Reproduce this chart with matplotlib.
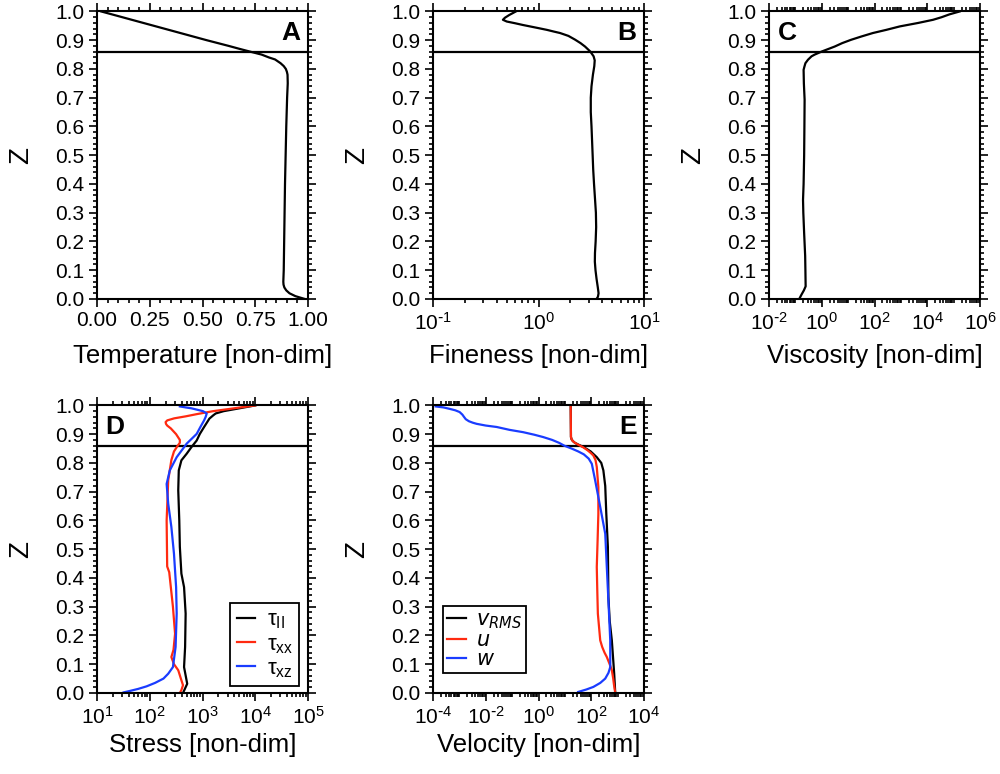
import numpy as np
import matplotlib
matplotlib.use("Agg")
import matplotlib.pyplot as plt
from matplotlib.ticker import (MultipleLocator, FixedLocator, LogLocator, FuncFormatter,
                               NullFormatter, FormatStrFormatter)

plt.rcParams['font.family'] = ['Liberation Sans', 'DejaVu Sans']
plt.rcParams['mathtext.default'] = 'regular'
plt.rcParams['axes.unicode_minus'] = False

# ---- Horizontally averaged profiles (z is non-dimensional height) ----
z_temp = [1.00, 0.98, 0.95, 0.92, 0.90, 0.88, 0.87, 0.86, 0.85, 0.84, 0.833, 0.82,
          0.81, 0.80, 0.79, 0.78, 0.75, 0.70, 0.60, 0.50, 0.40, 0.30, 0.20, 0.10,
          0.06, 0.05, 0.04, 0.03, 0.02, 0.01, 0.00]
temperature = [0.02, 0.12, 0.27, 0.42, 0.52, 0.625, 0.675, 0.727, 0.78, 0.815, 0.844, 0.87,
               0.885, 0.895, 0.90, 0.903, 0.904, 0.901, 0.897, 0.894, 0.891, 0.889, 0.887, 0.885,
               0.883, 0.884, 0.888, 0.897, 0.912, 0.94, 0.985]

z_fine = [1.000, 0.988, 0.978, 0.971, 0.965, 0.959, 0.953, 0.948, 0.942, 0.936, 0.930,
          0.925, 0.915, 0.902, 0.890, 0.878, 0.861, 0.844, 0.830, 0.810, 0.780, 0.740,
          0.700, 0.650, 0.600, 0.550, 0.500, 0.450, 0.400, 0.350, 0.300, 0.250, 0.200,
          0.160, 0.130, 0.100, 0.070, 0.040, 0.020, 0.008, 0.000]
fineness = [0.61, 0.53, 0.48, 0.46, 0.50, 0.60, 0.71, 0.83, 1.00, 1.20, 1.40,
            1.60, 1.92, 2.22, 2.50, 2.76, 3.09, 3.33, 3.41, 3.38, 3.28, 3.18,
            3.13, 3.13, 3.18, 3.22, 3.26, 3.30, 3.36, 3.43, 3.50, 3.52, 3.48,
            3.43, 3.42, 3.47, 3.55, 3.65, 3.71, 3.66, 3.55]

z_visc = [1.000, 0.990, 0.980, 0.971, 0.960, 0.948, 0.936, 0.925, 0.913, 0.9015, 0.890,
          0.878, 0.861, 0.850, 0.844, 0.832, 0.820, 0.808, 0.797, 0.750, 0.693, 0.600,
          0.500, 0.400, 0.345, 0.300, 0.229, 0.150, 0.100, 0.044, 0.030, 0.015, 0.000]
viscosity = [1.7e5, 7.0e4, 3.5e4, 1.66e4, 4.5e3, 912, 280, 87, 32, 13, 6.0,
             3.1, 1.02, 0.54, 0.41, 0.30, 0.24, 0.22, 0.205, 0.21, 0.224, 0.22,
             0.215, 0.205, 0.195, 0.20, 0.215, 0.235, 0.24, 0.245, 0.21, 0.17, 0.14]

z_tau_ii = [1.000, 0.990, 0.980, 0.972, 0.965, 0.954, 0.948, 0.925, 0.901, 0.878, 0.855,
            0.832, 0.809, 0.774, 0.705, 0.600, 0.508, 0.415, 0.368, 0.276, 0.160, 0.090,
            0.032, 0.000]
tau_ii = [10000, 5012, 2512, 1778, 1585, 1349, 1288, 1072, 891, 776, 617,
          501, 398, 355, 347, 363, 372, 398, 447, 479, 468, 447,
          513, 427]

z_tau_xx = [1.000, 0.990, 0.980, 0.970, 0.962, 0.955, 0.948, 0.942, 0.936, 0.930, 0.920,
            0.900, 0.880, 0.870, 0.860, 0.840, 0.810, 0.740, 0.600, 0.440, 0.420, 0.300,
            0.206, 0.150, 0.125, 0.100, 0.079, 0.050, 0.027, 0.010, 0.000]
tau_xx = [10000, 3981, 1585, 794, 480, 290, 215, 200, 203, 214, 251,
          316, 372, 372, 339, 288, 257, 224, 209, 214, 234, 275,
          302, 282, 257, 288, 347, 389, 427, 398, 372]

z_tau_xz = [0.9965, 0.993, 0.990, 0.980, 0.972, 0.960, 0.948, 0.925, 0.901, 0.867, 0.820,
            0.774, 0.727, 0.658, 0.577, 0.484, 0.368, 0.276, 0.160, 0.090, 0.067, 0.050,
            0.035, 0.023, 0.014, 0.007, 0.002]
tau_xz = [372, 480, 617, 1023, 1202, 1148, 1072, 912, 776, 501, 324,
          240, 209, 224, 257, 288, 316, 324, 309, 275, 224, 182,
          126, 87, 60, 42, 32]

z_u = [1.000, 0.890, 0.882, 0.876, 0.870, 0.864, 0.855, 0.845, 0.835, 0.826, 0.810,
       0.786, 0.716, 0.623, 0.530, 0.438, 0.350, 0.276, 0.183, 0.160, 0.140, 0.125,
       0.100, 0.079, 0.050, 0.030, 0.000]
u_vel = [16.6, 17.0, 18.0, 20, 24, 31, 48, 70, 95, 120, 145,
         162, 186, 186, 174, 162, 170, 178, 219, 260, 320, 389,
         500, 603, 680, 724, 813]

z_vrms = [1.000, 0.890, 0.882, 0.876, 0.870, 0.864, 0.855, 0.840, 0.820, 0.800, 0.774,
          0.720, 0.623, 0.508, 0.334, 0.250, 0.183, 0.067, 0.000]
v_rms = [16.6, 17.0, 18.0, 20, 24, 32, 52, 95, 162, 240, 288,
         339, 372, 427, 447, 501, 603, 741, 813]

z_w = [0.9965, 0.993, 0.988, 0.983, 0.977, 0.968, 0.960, 0.952, 0.945, 0.940, 0.936,
       0.930, 0.925, 0.915, 0.907, 0.898, 0.890, 0.880, 0.870, 0.860, 0.850, 0.840,
       0.830, 0.815, 0.797, 0.739, 0.647, 0.554, 0.438, 0.322, 0.183, 0.090, 0.070,
       0.050, 0.035, 0.021, 0.012, 0.0035]
w_vel = [1.26e-4, 2.5e-4, 4.3e-4, 7.0e-4, 1.02e-3, 1.3e-3, 1.5e-3, 1.75e-3, 2.3e-3, 3.2e-3, 4.5e-3,
         0.010, 0.026, 0.08, 0.26, 0.7, 1.5, 3.3, 6.0, 9.5, 18, 32,
         52, 80, 105, 141, 219, 339, 389, 447, 525, 525, 450,
         339, 220, 120, 65, 32]

z_lid = 0.86

RED = '#ff2a10'
BLUE = '#1a3cff'

fig = plt.figure(figsize=(10, 7.74), dpi=100)

W, H = 0.211, 0.3715
top_row, bot_row = 0.6137, 0.1047
cols = [0.097, 0.433, 0.769]

TICK_FS = 15
LABEL_FS = 18.5


def pow10_label(val, pos):
    e = int(round(np.log10(val)))
    exp = str(e) if e >= 0 else '\\text{-}' + str(-e)
    return '$10^{' + exp + '}$'


def style_axis(ax, label, xlab_y):
    ax.set_ylim(0, 1)
    ax.yaxis.set_major_locator(MultipleLocator(0.1))
    ax.yaxis.set_minor_locator(MultipleLocator(0.02))
    ax.yaxis.set_major_formatter(FormatStrFormatter('%.1f'))
    ax.tick_params(which='both', direction='out', top=True, right=True, width=1.2,
                   labelsize=TICK_FS, color='black')
    ax.tick_params(which='major', length=6, pad=3)
    ax.tick_params(which='minor', length=3)
    for s in ax.spines.values():
        s.set_linewidth(1.5)
    ax.set_ylabel('Z', fontsize=20)
    ax.yaxis.set_label_coords(-0.30, 0.5)
    ax.set_xlabel(label, fontsize=LABEL_FS)
    ax.xaxis.label.set_va('baseline')
    ax.xaxis.set_label_coords(0.5, xlab_y)
    ax.axhline(z_lid, color='black', lw=1.6, zorder=1)


def log_axis(ax, lo, hi, step):
    ax.set_xscale('log')
    ax.set_xlim(10.0 ** lo, 10.0 ** hi)
    ax.xaxis.set_major_locator(FixedLocator([10.0 ** e for e in range(lo, hi + 1, step)]))
    ax.xaxis.set_major_formatter(FuncFormatter(pow10_label))
    ax.xaxis.set_minor_locator(LogLocator(base=10, subs=np.arange(1, 10), numticks=200))
    ax.xaxis.set_minor_formatter(NullFormatter())


def panel_letter(ax, letter, x, ha):
    ax.text(x, 0.925, letter, transform=ax.transAxes, ha=ha, va='center',
            fontsize=19, fontweight='bold')


# A: temperature
axA = fig.add_axes([cols[0], top_row, W, H])
axA.plot(temperature, z_temp, color='black', lw=1.6)
axA.set_xlim(0, 1)
axA.xaxis.set_major_locator(MultipleLocator(0.25))
axA.xaxis.set_minor_locator(MultipleLocator(0.05))
axA.xaxis.set_major_formatter(FormatStrFormatter('%.2f'))
style_axis(axA, 'Temperature [non-dim]', -0.222)
panel_letter(axA, 'A', 0.965, 'right')

# B: fineness
axB = fig.add_axes([cols[1], top_row, W, H])
axB.plot(fineness, z_fine, color='black', lw=1.6)
log_axis(axB, -1, 1, 1)
style_axis(axB, 'Fineness [non-dim]', -0.222)
panel_letter(axB, 'B', 0.965, 'right')

# C: viscosity
axC = fig.add_axes([cols[2], top_row, W, H])
axC.plot(viscosity, z_visc, color='black', lw=1.6)
log_axis(axC, -2, 6, 2)
style_axis(axC, 'Viscosity [non-dim]', -0.222)
panel_letter(axC, 'C', 0.04, 'left')

# D: stress
axD = fig.add_axes([cols[0], bot_row, W, H])
axD.plot(tau_ii, z_tau_ii, color='black', lw=1.6, label='τ$_{II}$')
axD.plot(tau_xx, z_tau_xx, color=RED, lw=1.6, label='τ$_{xx}$')
axD.plot(tau_xz, z_tau_xz, color=BLUE, lw=1.6, label='τ$_{xz}$')
log_axis(axD, 1, 5, 1)
style_axis(axD, 'Stress [non-dim]', -0.207)
panel_letter(axD, 'D', 0.04, 'left')
legD = axD.legend(loc='lower right', bbox_to_anchor=(0.958, 0.024), borderaxespad=0,
                  fontsize=16, handlelength=0.85, handletextpad=0.5, labelspacing=0.12,
                  borderpad=0.28, fancybox=False, framealpha=1, edgecolor='black')
legD.get_frame().set_linewidth(1.3)

# E: velocity
axE = fig.add_axes([cols[1], bot_row, W, H])
axE.plot(v_rms, z_vrms, color='black', lw=1.6, label='$\\mathit{v_{RMS}}$')
axE.plot(u_vel, z_u, color=RED, lw=1.6, label='$\\mathit{u}$')
axE.plot(w_vel, z_w, color=BLUE, lw=1.6, label='$\\mathit{w}$')
log_axis(axE, -4, 4, 2)
style_axis(axE, 'Velocity [non-dim]', -0.207)
panel_letter(axE, 'E', 0.965, 'right')
legE = axE.legend(loc='lower left', bbox_to_anchor=(0.047, 0.069), borderaxespad=0,
                  fontsize=15, handlelength=0.9, handletextpad=0.5, labelspacing=0.0,
                  borderpad=0.2, fancybox=False, framealpha=1, edgecolor='black')
legE.get_frame().set_linewidth(1.3)

fig.savefig('out.png', dpi=100)
